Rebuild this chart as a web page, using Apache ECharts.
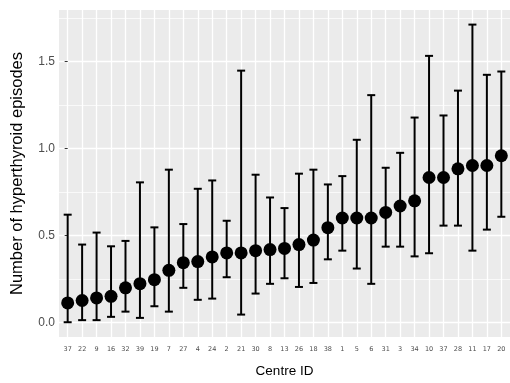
<!DOCTYPE html>
<html>
<head>
<meta charset="utf-8">
<script src="https://cdn.jsdelivr.net/npm/echarts@6/dist/echarts.min.js"></script>
<style>
    html, body { margin: 0; padding: 0; background: #fff; }
    #chart { width: 510px; height: 383px; }
</style>
</head>
<body>
<div id="chart"></div>
<script>
// centre ids in plotting order (37 occurs twice in the original)
const centres = ['37', '22', '9', '16', '32', '39', '19', '7', '27', '4', '24', '2', '21', '30', '8', '13',
    '26', '18', '38', '1', '5', '6', '31', '3', '34', '10', '37', '28', '11', '17', '20'];
const means = [0.111, 0.125, 0.140, 0.149, 0.198, 0.222, 0.245, 0.299, 0.343, 0.349, 0.376, 0.399, 0.399,
    0.412, 0.418, 0.425, 0.447, 0.473, 0.544, 0.600, 0.600, 0.600, 0.632, 0.669, 0.699, 0.833, 0.833,
    0.883, 0.902, 0.902, 0.958];
const lower = [0.0, 0.012, 0.012, 0.031, 0.061, 0.025, 0.092, 0.061, 0.198, 0.129, 0.136, 0.259, 0.044,
    0.165, 0.221, 0.253, 0.203, 0.226, 0.362, 0.412, 0.309, 0.221, 0.435, 0.435, 0.379, 0.397, 0.556,
    0.556, 0.412, 0.533, 0.607];
const upper = [0.619, 0.447, 0.516, 0.437, 0.468, 0.805, 0.546, 0.878, 0.565, 0.768, 0.816, 0.584, 1.448,
    0.849, 0.718, 0.657, 0.855, 0.878, 0.793, 0.841, 1.050, 1.307, 0.889, 0.975, 1.178, 1.533, 1.190,
    1.333, 1.713, 1.424, 1.443];
const yTicks = [0, 0.5, 1, 1.5];
const yMinor = [0.25, 0.75, 1.25, 1.75];

const idx = centres.map((c, i) => i);

const myChart = echarts.init(document.getElementById('chart'), null, { renderer: 'canvas' });

const option = {
    animation: false,
    grid: {
        left: 59,
        top: 10,
        width: 453,
        height: 327,
        show: true,
        backgroundColor: '#EBEBEB',
        borderWidth: 0,
    },
    xAxis: {
        type: 'value',
        min: -0.6,
        max: 30.6,
        axisLine: { show: false },
        axisTick: { show: false, customValues: idx },
        axisLabel: {
            customValues: idx,
            formatter: (v) => centres[Math.round(v)],
            fontSize: 6.5,
            fontFamily: 'DejaVu Sans',
            color: '#4D4D4D',
            margin: 9,
        },
        splitLine: { show: true, lineStyle: { color: '#FFFFFF', width: 1.3 } },
        name: 'Centre ID',
        nameLocation: 'middle',
        nameGap: 27,
        nameTextStyle: { fontSize: 13.5, color: '#000', fontFamily: 'Liberation Sans' },
    },
    yAxis: [
        {
            type: 'value',
            min: -0.085,
            max: 1.797,
            axisLine: { show: false },
            axisTick: { show: true, length: 3, customValues: yTicks, lineStyle: { color: '#333', width: 1 } },
            axisLabel: {
                customValues: yTicks,
                formatter: (v) => v.toFixed(1),
                fontSize: 12,
                fontFamily: 'Liberation Sans',
                color: '#4D4D4D',
                margin: 4,
            },
            splitLine: { show: true, lineStyle: { color: '#FFFFFF', width: 1.4 } },
            name: 'Number of hyperthyroid episodes',
            nameLocation: 'middle',
            nameGap: 33,
            nameTextStyle: { fontSize: 16.5, color: '#000', fontFamily: 'Liberation Sans' },
        },
        {
            // minor grid lines only
            type: 'value',
            min: -0.085,
            max: 1.797,
            position: 'left',
            axisLine: { show: false },
            axisTick: { show: false, customValues: yMinor },
            axisLabel: { show: false, customValues: yMinor },
            splitLine: { show: true, lineStyle: { color: '#FFFFFF', width: 0.7 } },
        },
    ],
    series: [
        {
            type: 'custom',
            name: 'ci',
            z: 3,
            data: idx.map((i) => [i, lower[i], upper[i]]),
            encode: { x: 0, y: [1, 2] },
            renderItem: (params, api) => {
                const lo = api.coord([api.value(0), api.value(1)]);
                const hi = api.coord([api.value(0), api.value(2)]);
                const half = 4;
                const style = { stroke: '#000', lineWidth: 2 };
                return {
                    type: 'group',
                    children: [
                        { type: 'line', shape: { x1: lo[0], y1: lo[1], x2: hi[0], y2: hi[1] }, style },
                        { type: 'line', shape: { x1: hi[0] - half, y1: hi[1], x2: hi[0] + half, y2: hi[1] }, style },
                        { type: 'line', shape: { x1: lo[0] - half, y1: lo[1], x2: lo[0] + half, y2: lo[1] }, style },
                    ],
                };
            },
        },
        {
            type: 'scatter',
            name: 'mean',
            z: 4,
            symbol: 'circle',
            symbolSize: 13,
            itemStyle: { color: '#000', opacity: 1 },
            data: idx.map((i) => [i, means[i]]),
        },
    ],
};

myChart.setOption(option);
</script>
</body>
</html>
